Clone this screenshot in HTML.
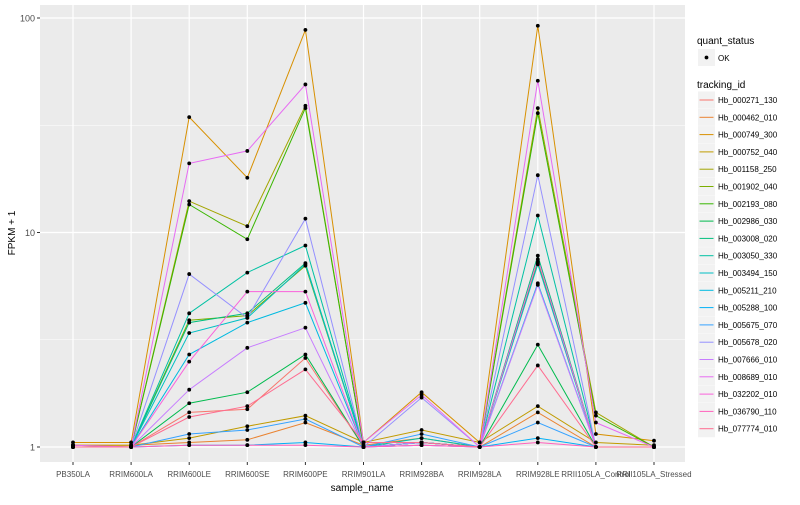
<!DOCTYPE html>
<html><head><meta charset="utf-8"><style>
body{margin:0;background:#fff;font-family:"Liberation Sans",sans-serif}
svg text{font-family:"Liberation Sans",sans-serif}
</style></head><body>
<svg id="c" width="800" height="500" xmlns="http://www.w3.org/2000/svg"></svg>
<script>
const categories=["PB350LA","RRIM600LA","RRIM600LE","RRIM600SE","RRIM600PE","RRIM901LA","RRIM928BA","RRIM928LA","RRIM928LE","RRII105LA_Control","RRII105LA_Stressed"];
const seriesIds=["Hb_000271_130","Hb_000462_010","Hb_000749_300","Hb_000752_040","Hb_001158_250","Hb_001902_040","Hb_002193_080","Hb_002986_030","Hb_003008_020","Hb_003050_330","Hb_003494_150","Hb_005211_210","Hb_005288_100","Hb_005675_070","Hb_005678_020","Hb_007666_010","Hb_008689_010","Hb_032202_010","Hb_036790_110","Hb_077774_010"];
const seriesColors=["#F8766D","#EA8331","#D89000","#C09B00","#A3A500","#7CAE00","#39B600","#00BB4E","#00BF7D","#00C1A3","#00BFC4","#00BAE0","#00B0F6","#35A2FF","#9590FF","#C77CFF","#E76BF3","#FA62DB","#FF62BC","#FF6C90"];
const seriesValues=[
[1,1,1.45,1.5,2.6,1,1.05,1,7.2,1,1],
[1.02,1.02,1.05,1.08,1.3,1.02,1.1,1,1.45,1,1],
[1.05,1.05,34.5,18,88,1.05,1.8,1.05,92,1.15,1.07],
[1.02,1.02,1.1,1.25,1.4,1.05,1.2,1.05,1.55,1.05,1.02],
[1.02,1,14,10.7,39,1,1.05,1,38,1.45,1],
[1,1,3.9,4.1,7.0,1,1.05,1,7.3,1,1],
[1,1,13.5,9.3,38,1,1.05,1,36,1.4,1],
[1,1,1.6,1.8,2.7,1,1.05,1,3.0,1,1],
[1,1,3.8,4.2,7.2,1,1.05,1,7.8,1,1],
[1,1,4.2,6.5,8.7,1,1.1,1,12,1,1],
[1,1,3.4,4.0,7.1,1,1.05,1,7.1,1,1],
[1,1,2.7,3.8,4.7,1,1.05,1,5.8,1,1],
[1,1,1.02,1.02,1.05,1,1.02,1,1.1,1,1],
[1,1,1.15,1.2,1.35,1,1.15,1,1.3,1,1],
[1,1,6.4,4.0,11.6,1,1.7,1,18.5,1,1],
[1,1,1.85,2.9,3.6,1,1.05,1,5.7,1,1],
[1.02,1,21,24,49,1.05,1.75,1,51,1.3,1],
[1,1,2.5,5.3,5.3,1,1.02,1,7.5,1,1],
[1,1,1.02,1.02,1.02,1,1.02,1,1.05,1,1],
[1,1,1.38,1.55,2.3,1.05,1.05,1,2.4,1,1]];
const yTicks=[1,10,100];
const yTickLabels=["1","10","100"];
const minorTicks=[Math.sqrt(10),Math.sqrt(1000)];

const NS="http://www.w3.org/2000/svg";
const svg=document.getElementById('c');
const PX0=40,PX1=685,PY0=5,PY1=462;
const xScale=i=>73+i*(654-73)/(categories.length-1);
const yScale=v=>447-214.5*Math.log10(v);
function el(t,a,p){const e=document.createElementNS(NS,t);for(const k in a)e.setAttribute(k,a[k]);(p||svg).appendChild(e);return e;}

const bg=el('rect',{x:PX0,y:PY0,width:PX1-PX0,height:PY1-PY0,fill:'#EBEBEB'});


minorTicks.forEach(v=>{const l=el('line',{x1:PX0,x2:PX1,y1:yScale(v),y2:yScale(v),stroke:'#fff','stroke-width':0.6});

});
yTicks.forEach((v,i)=>{const l=el('line',{x1:PX0,x2:PX1,y1:yScale(v),y2:yScale(v),stroke:'#fff','stroke-width':1.2});


el('line',{x1:PX0-3,x2:PX0,y1:yScale(v),y2:yScale(v),stroke:'#333'});
const t=el('text',{x:PX0-5,y:yScale(v)+3.5,'text-anchor':'end','font-size':9,fill:'#4d4d4d'});t.textContent=yTickLabels[i];

});
categories.forEach((c,i)=>{const x=xScale(i);
const l=el('line',{x1:x,x2:x,y1:PY0,y2:PY1,stroke:'#fff','stroke-width':1.2});


el('line',{x1:x,x2:x,y1:PY1,y2:PY1+3,stroke:'#333'});
const t=el('text',{x:x,y:477,'text-anchor':'middle','font-size':8,fill:'#4d4d4d'});t.textContent=c;

});

seriesValues.forEach((vals,s)=>{
const pts=vals.map((v,i)=>xScale(i).toFixed(1)+','+yScale(v).toFixed(1)).join(' ');
const p=el('polyline',{points:pts,fill:'none',stroke:seriesColors[s],'stroke-width':1});

});
seriesValues.forEach((vals,s)=>{vals.forEach((v,i)=>{
const d=el('circle',{cx:xScale(i),cy:yScale(v),r:1.9,fill:'#000'});

});});

let t=el('text',{x:362,y:491,'text-anchor':'middle','font-size':10,fill:'#000'});t.textContent='sample_name';


t=el('text',{x:15,y:233,'text-anchor':'middle','font-size':10,fill:'#000',transform:'rotate(-90 15 233)'});t.textContent='FPKM + 1';



t=el('text',{x:697,y:44,'font-size':10,fill:'#000'});t.textContent='quant_status';


const kb=el('rect',{x:698,y:49,width:17,height:17,fill:'#F2F2F2'});


el('circle',{cx:706.5,cy:57.5,r:1.9,fill:'#000'});
t=el('text',{x:718,y:61,'font-size':8,fill:'#000'});t.textContent='OK';


t=el('text',{x:697,y:88,'font-size':10,fill:'#000'});t.textContent='tracking_id';


seriesIds.forEach((id,s)=>{const y=100+s*17.3;
el('rect',{x:698,y:y-8.5,width:17,height:17,fill:'#F2F2F2'});
const l=el('line',{x1:699.5,x2:713.5,y1:y,y2:y,stroke:seriesColors[s],'stroke-width':1});


const tt=el('text',{x:718,y:y+3,'font-size':8,fill:'#000'});tt.textContent=id;

});
</script>
</body></html>
